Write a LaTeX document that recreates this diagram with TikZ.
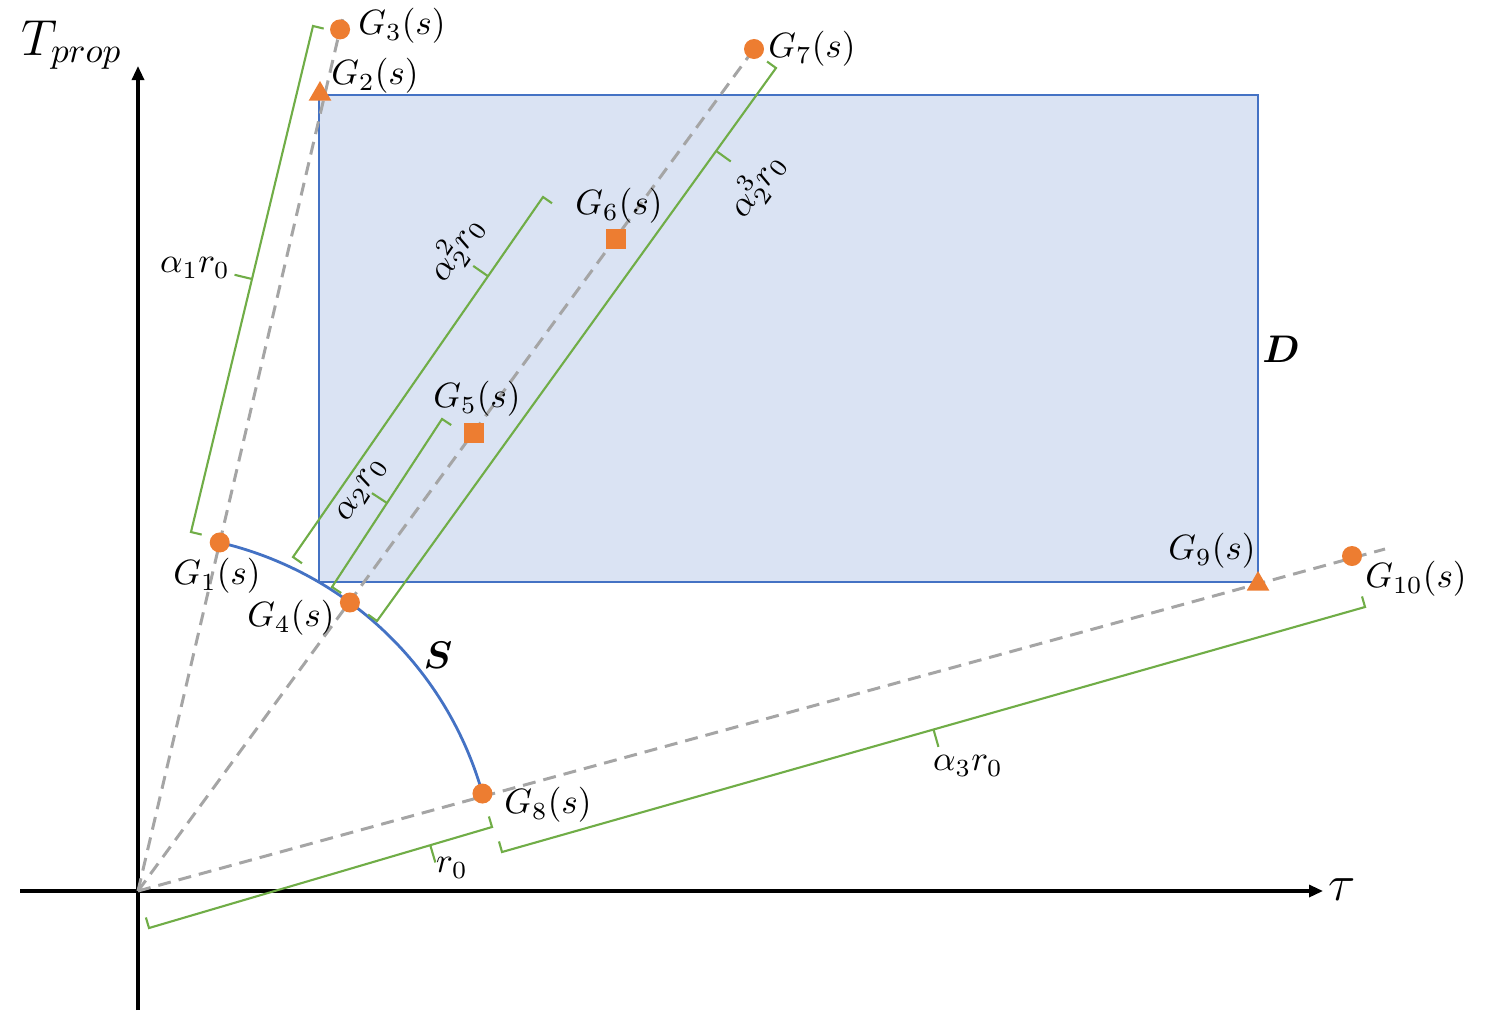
\documentclass[tikz,border=0pt]{standalone}
\usepackage{amsmath}
\usetikzlibrary{calc,arrows.meta,shapes.geometric}
\definecolor{orng}{HTML}{ED7D31}
\definecolor{grn}{HTML}{70AD47}
\definecolor{blu}{HTML}{4472C4}
\definecolor{fillb}{HTML}{DAE3F3}
\definecolor{gry}{HTML}{A5A5A5}
\newcommand\gbrace[5]{%
  \coordinate (bm) at ($(#1)!#5!(#2)$);
  \draw[brc] ($(#1)!0.11cm!#3:(#2)$) -- (#1) -- (#2) -- ($(#2)!0.11cm!#4:(#1)$);
  \draw[brc] (bm) -- ($(bm)!0.18cm!#4:(#2)$);
}
\begin{document}
\begin{tikzpicture}[x=0.01cm,y=-0.01cm,
  axis/.style={line width=0.9pt,-{Triangle[length=0.14cm,width=0.12cm]}},
  ray/.style={gry,line width=0.85pt,dash pattern=on 0.13cm off 0.08cm},
  brc/.style={grn,line width=0.6pt},
  dot/.style={circle,fill=orng,inner sep=0pt,minimum size=0.2cm},
  sq/.style={rectangle,fill=orng,inner sep=0pt,minimum size=0.2cm},
  tri/.style={regular polygon,regular polygon sides=3,fill=orng,inner sep=0pt,minimum size=0.26cm},
  lab/.style={inner sep=0pt,font=\fontsize{10.2}{12}\selectfont},
  biglab/.style={inner sep=0pt,font=\fontsize{14}{16}\selectfont},
]
\useasboundingbox (0,0) rectangle (1486,1012);

% key points
\coordinate (O) at (138,891);
\coordinate (Xs) at (20,891);
\coordinate (Xe) at (1323,891);
\coordinate (Ys) at (138,1010);
\coordinate (Ye) at (138,66);
\coordinate (G1) at ($(O)+(-76.8:358)$);
\coordinate (G3) at ($(O)+(-76.8:885)$);
\coordinate (R1) at ($(O)+(-76.8:900)$);
\coordinate (G4) at ($(O)+(-53.7:358)$);
\coordinate (G5) at (474,433);
\coordinate (G6) at (616,239);
\coordinate (G7) at (754,49);
\coordinate (G8) at ($(O)+(-15.8:358)$);
\coordinate (G2) at (320,94);
\coordinate (G9) at (1258,584);
\coordinate (G10) at (1352,556);
\coordinate (R3) at (1385,549);
\coordinate (DA) at (319,95);
\coordinate (DB) at (1258,582);

% domain D
\draw[blu,line width=0.75pt,fill=fillb] (DA) rectangle (DB);

% axes
\draw[axis] (Xs) -- (Xe);
\draw[axis] (Ys) -- (Ye);

% rays
\draw[ray] (O) -- (R1);
\draw[ray] (O) -- (G7);
\draw[ray] (O) -- (R3);

% arc S
\draw[blu,line width=0.8pt] (G1) arc[start angle=-76.8,end angle=-15.8,radius=358];

% braces
\coordinate (b1a) at (191,532); \coordinate (b1b) at (313,26);
\coordinate (b2a) at (293,557); \coordinate (b2b) at (543,197);
\coordinate (b3a) at (332,587); \coordinate (b3b) at (442,419);
\coordinate (b4a) at (377,621); \coordinate (b4b) at (776,68);
\coordinate (b5a) at (149,928); \coordinate (b5b) at (492,827);
\coordinate (b6a) at (502,852); \coordinate (b6b) at (1365,607);
\gbrace{b1a}{b1b}{-90}{90}{0.5}
\gbrace{b2a}{b2b}{-90}{90}{0.78}
\gbrace{b3a}{b3b}{-90}{90}{0.5}
\gbrace{b4a}{b4b}{90}{-90}{0.85}
\gbrace{b5a}{b5b}{90}{-90}{0.82}
\gbrace{b6a}{b6b}{90}{-90}{0.5}

% markers
\node[dot] (m1) at (G1) {};
\node[tri] (m2) at (G2) {};
\node[dot] (m3) at (G3) {};
\node[dot] (m4) at (G4) {};
\node[sq]  (m5) at (G5) {};
\node[sq]  (m6) at (G6) {};
\node[dot] (m7) at (G7) {};
\node[dot] (m8) at (G8) {};
\node[tri] (m9) at (G9) {};
\node[dot] (m10) at (G10) {};

% point labels
\node[lab] (l1) at (217,576) {$G_1(s)$};
\node[lab] (l2) at (375,76) {$G_2(s)$};
\node[lab] (l3) at (402,26) {$G_3(s)$};
\node[lab] (l4) at (291,618) {$G_4(s)$};
\node[lab] (l5) at (477,399) {$G_5(s)$};
\node[lab] (l6) at (619,206) {$G_6(s)$};
\node[lab] (l7) at (812,49) {$G_7(s)$};
\node[lab] (l8) at (548,805) {$G_8(s)$};
\node[lab] (l9) at (1212,551) {$G_9(s)$};
\node[lab] (l10) at (1416,579) {$G_{10}(s)$};

% brace labels
\node[lab] (a1) at (195,268) {$\alpha_1 r_0$};
\node[lab,rotate=55] (a22) at (456,249) {$\alpha_2^2 r_0$};
\node[lab,rotate=57] (a2) at (362,490) {$\alpha_2 r_0$};
\node[lab,rotate=54] (a23) at (757,185) {$\alpha_2^3 r_0$};
\node[lab] (r0) at (452,868) {$r_0$};
\node[lab] (a3) at (968,766) {$\alpha_3 r_0$};

% region / curve / axis labels
\node[lab,font=\fontsize{11}{13}\selectfont] (dl) at (1281,349) {$\boldsymbol{D}$};
\node[lab,font=\fontsize{11}{13}\selectfont] (sl) at (438,655) {$\boldsymbol{S}$};
\node[biglab] (tl) at (1342,890) {$\tau$};
\node[biglab] (tp) at (72,45) {$T_{prop}$};
\end{tikzpicture}
\end{document}
